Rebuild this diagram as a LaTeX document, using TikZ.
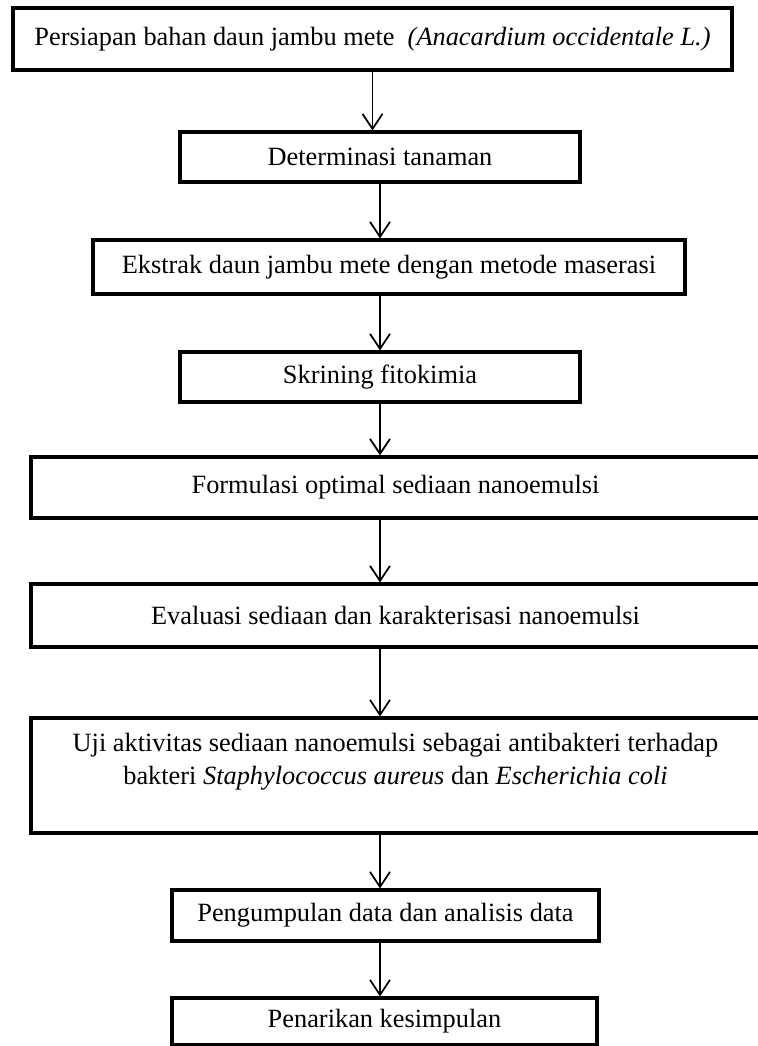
\documentclass[tikz,border=0pt]{standalone}
\usepackage{fontspec}
\setmainfont{Liberation Serif}
\usepackage{tikz}
\usetikzlibrary{arrows.meta,positioning,calc}
\tikzset{
  % 全部文字
  every node/.append style={font=\fontsize{22.5}{28}\selectfont},
  % 基础盒子
  box/.style={
    draw=black,
    line width=2.7pt,
    minimum height=1.5cm,
    inner sep=0pt,
    align=center
  },
  % 箭头样式
  arr/.style={-{Straight Barb[length=0.45cm,width=0.6cm]}, line width=1.5pt, black},
}
\begin{document}
\begin{tikzpicture}
    \useasboundingbox (0,0) rectangle (22.71,-31.38);
    % 箭头所在的竖线
    \coordinate (axis) at (11.4,0);

    % Steps
    \node[box, minimum width=21.57cm, minimum height=1.86cm] (persiapan) at (11.175,-1.17)
        {Persiapan bahan daun jambu mete~ \textit{(Anacardium occidentale L.)}};
    \node[box, minimum width=12cm] (det) at (11.4,-4.71) {Determinasi tanaman};
    \node[box, minimum width=17.76cm, minimum height=1.62cm] (ekstrak) at (11.67,-8.01)
        {Ekstrak daun jambu mete dengan metode maserasi};
    \node[box, minimum width=12cm] (skrining) at (11.4,-11.31) {Skrining fitokimia};
    \node[box, minimum width=21.87cm, minimum height=1.83cm] (formulasi) at (11.865,-14.625)
        {Formulasi optimal sediaan nanoemulsi};
    \node[box, minimum width=21.87cm, minimum height=1.89cm] (evaluasi) at (11.865,-18.465)
        {Evaluasi sediaan dan karakterisasi nanoemulsi};
    \node[box, minimum width=21.87cm] (uji) at (11.865,-23.265)
        {\parbox[c][3.45cm][t]{21cm}{\centering\vspace{9pt}\strut
         Uji aktivitas sediaan nanoemulsi sebagai antibakteri terhadap\\
         bakteri \textit{Staphylococcus aureus} dan \textit{Escherichia coli}}};
    \node[box, minimum width=12.81cm, minimum height=1.53cm] (data) at (11.565,-27.465)
        {Pengumpulan data dan analisis data};
    \node[box, minimum width=12.75cm, minimum height=1.41cm] (simpulan) at (11.535,-30.645)
        {Penarikan kesimpulan};

    % Arrows
    \draw[arr] (persiapan.south) -- (persiapan.south |- det.north);
    \draw[arr] (det.south -| axis) -- (ekstrak.north -| axis);
    \draw[arr] (ekstrak.south -| axis) -- (skrining.north -| axis);
    \draw[arr] (skrining.south -| axis) -- (formulasi.north -| axis);
    \draw[arr] (formulasi.south -| axis) -- (evaluasi.north -| axis);
    \draw[arr] (evaluasi.south -| axis) -- (uji.north -| axis);
    \draw[arr] (uji.south -| axis) -- (data.north -| axis);
    \draw[arr] (data.south -| axis) -- (simpulan.north -| axis);
\end{tikzpicture}
\end{document}
